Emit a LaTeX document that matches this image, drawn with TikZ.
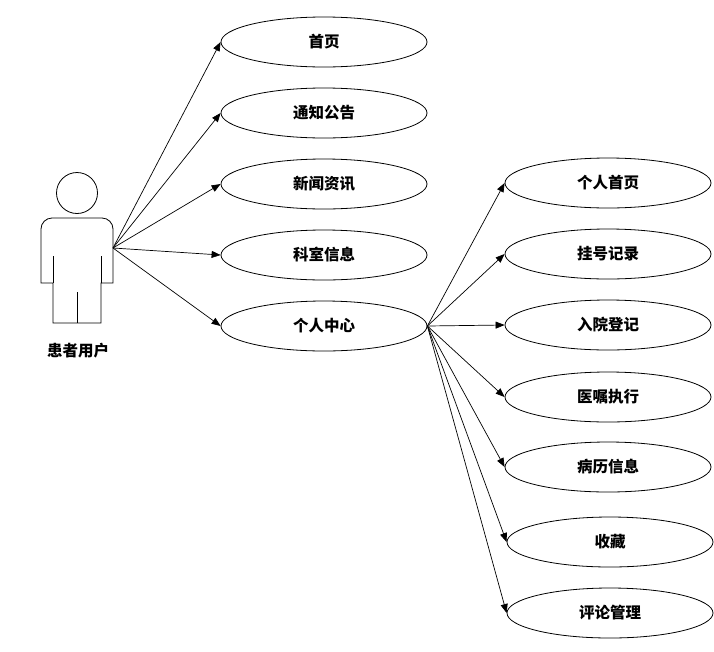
\documentclass[tikz,border=0pt]{standalone}
\usepackage{fontspec}
\newfontfamily\cjk{Noto Sans CJK SC}
\usetikzlibrary{arrows.meta,shapes.geometric}
\begin{document}
\begin{tikzpicture}[x=1pt,y=-1pt,
  usecase/.style={draw,ellipse,line width=0.8pt,minimum width=206pt,minimum height=50pt,inner sep=0pt,font=\cjk\bfseries\fontsize{15.5}{18}\selectfont},
  conn/.style={line width=0.7pt,-{Triangle[length=9pt,width=7pt]}},
  figline/.style={line width=0.8pt}]
\useasboundingbox (0,0) rectangle (714,651);
% actor
\draw[figline] (77,193) circle (20.5);
\draw[figline] (41,283) -- (41,229) arc[start angle=180,end angle=270,radius=11] -- (102,218) arc[start angle=-90,end angle=0,radius=11] -- (113,283) -- (101,283) -- (101,323) -- (53,323) -- (53,283) -- cycle;
\draw[figline] (53,256) -- (53,283) (101,256) -- (101,283) (77,292) -- (77,323);
\node[font=\cjk\bfseries\fontsize{15.5}{18}\selectfont] (actorlabel) at (78,351) {患者用户};
\coordinate (actorR) at (113,248);
% left column
\node[usecase] (sy) at (324,42) {首页};
\node[usecase] (tz) at (324,113) {通知公告};
\node[usecase] (xw) at (324,184) {新闻资讯};
\node[usecase] (ks) at (324,255) {科室信息};
\node[usecase] (gr) at (324,326) {个人中心};
% right column
\node[usecase] (grsy) at (608,183) {个人首页};
\node[usecase] (gh) at (608,254) {挂号记录};
\node[usecase] (ry) at (608,325) {入院登记};
\node[usecase] (yz) at (608,397) {医嘱执行};
\node[usecase] (bl) at (608,467) {病历信息};
\node[usecase] (sc) at (610,542) {收藏};
\node[usecase] (pl) at (610,613) {评论管理};
% connectors
\foreach \t in {sy,tz,xw,ks,gr} \draw[conn] (actorR) -- (\t.west);
\foreach \t in {grsy,gh,ry,yz,bl,sc,pl} \draw[conn] (gr.east) -- (\t.west);
\end{tikzpicture}
\end{document}
